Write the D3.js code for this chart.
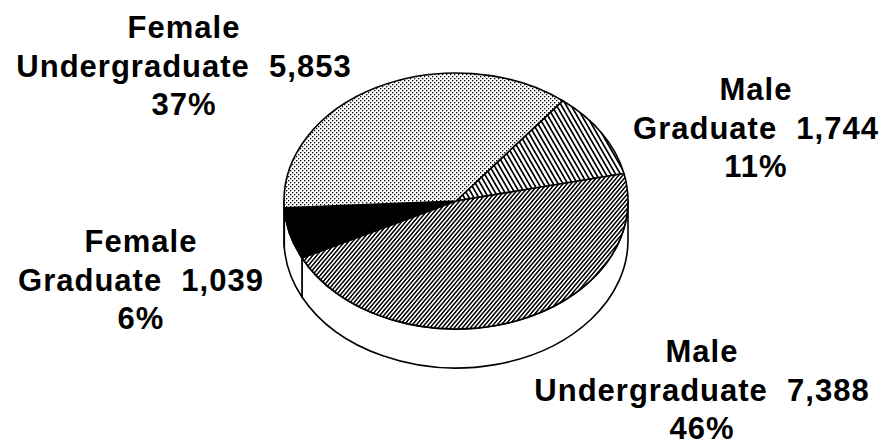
<!DOCTYPE html>
<html>
<head>
<meta charset="utf-8">
<script src="https://cdn.jsdelivr.net/npm/d3@7"></script>
<style>
  body { margin: 0; background: #fff; }
  text { font-family: "Liberation Sans", Arial, sans-serif; font-weight: bold; font-size: 31px; fill: #000; letter-spacing: 1px; }
</style>
</head>
<body>
<svg id="chart" width="893" height="448"></svg>
<script>
// enrollment by gender and level
var genders = ["Male", "Male", "Female", "Female"];
var levels = ["Graduate", "Undergraduate", "Graduate", "Undergraduate"];
var counts = [1744, 7388, 1039, 5853];
var fills = ["url(#hatchSparse)", "url(#hatchDense)", "#000", "url(#stipple)"];

// label centres (x) and first baseline (y)
var labelPos = [[756, 100], [702, 362], [141, 252], [184, 38]];

var width = 893, height = 448;
var cx = 456, cy = 201, rx = 172, ry = 128, depth = 39;
var lineH = 38.5;

var svg = d3.select("#chart");
var defs = svg.append("defs");

var st = defs.append("pattern").attr("id", "stipple")
    .attr("patternUnits", "userSpaceOnUse").attr("width", 4).attr("height", 4);
st.append("rect").attr("width", 4).attr("height", 4).attr("fill", "#fff");
st.append("rect").attr("x", 0).attr("y", 0).attr("width", 1.3).attr("height", 1.3).attr("fill", "#000");
st.append("rect").attr("x", 2).attr("y", 2).attr("width", 1.3).attr("height", 1.3).attr("fill", "#000");

function hatch(id, size, lw, angle) {
    var p = defs.append("pattern").attr("id", id)
        .attr("patternUnits", "userSpaceOnUse")
        .attr("width", size).attr("height", size)
        .attr("patternTransform", "rotate(" + angle + ")");
    p.append("rect").attr("width", size).attr("height", size).attr("fill", "#fff");
    p.append("rect").attr("x", 0).attr("y", 0).attr("width", lw).attr("height", size).attr("fill", "#000");
}
hatch("hatchSparse", 4.2, 1.7, -30);
hatch("hatchDense", 3.1, 1.5, 40);

var pie = d3.pie().sort(null).startAngle(38.4 * Math.PI / 180).endAngle(38.4 * Math.PI / 180 + 2 * Math.PI);
var arcs = pie(counts);
var total = d3.sum(counts);

// d3 angle (0 = 12 o'clock) -> ellipse parameter
function toT(a) { return a - Math.PI / 2; }
function pt(t, dy) { return [cx + rx * Math.cos(t), cy + (dy || 0) + ry * Math.sin(t)]; }

function topPath(d) {
    var t0 = toT(d.startAngle), t1 = toT(d.endAngle);
    var p0 = pt(t0), p1 = pt(t1);
    var large = (t1 - t0) > Math.PI ? 1 : 0;
    return "M" + cx + "," + cy + "L" + p0 + "A" + rx + "," + ry + " 0 " + large + " 1 " + p1 + "Z";
}

function wallPath(t0, t1) {
    var a = pt(t0), b = pt(t1), c = pt(t1, depth), e = pt(t0, depth);
    return "M" + a + "A" + rx + "," + ry + " 0 0 1 " + b +
        "L" + c + "A" + rx + "," + ry + " 0 0 0 " + e + "Z";
}

// front walls (parameter between 0 and PI)
var walls = [];
arcs.forEach(function (d) {
    var t0 = toT(d.startAngle), t1 = toT(d.endAngle);
    [-2 * Math.PI, 0, 2 * Math.PI].forEach(function (k) {
        var s = Math.max(t0 + k, 0), e = Math.min(t1 + k, Math.PI);
        if (e > s) walls.push([s, e]);
    });
});

svg.append("g").selectAll("path").data(walls).join("path")
    .attr("d", function (w) { return wallPath(w[0], w[1]); })
    .attr("fill", "#fff").attr("stroke", "#000").attr("stroke-width", 1.6)
    .attr("stroke-linejoin", "round");

svg.append("g").selectAll("path").data(arcs).join("path")
    .attr("d", topPath)
    .attr("fill", function (d, i) { return fills[i]; })
    .attr("stroke", "#000").attr("stroke-width", 1.6)
    .attr("stroke-linejoin", "round");

var fmt = d3.format(",");
var labels = svg.append("g").selectAll("text").data(arcs).join("text")
    .attr("text-anchor", "middle")
    .attr("x", function (d, i) { return labelPos[i][0]; })
    .attr("y", function (d, i) { return labelPos[i][1]; })
    .style("white-space", "pre");

labels.each(function (d, i) {
    var lines = [genders[i], levels[i] + "  " + fmt(counts[i]), Math.round(d.value / total * 100) + "%"];
    d3.select(this).selectAll("tspan").data(lines).join("tspan")
        .attr("x", labelPos[i][0])
        .attr("dy", function (l, j) { return j === 0 ? 0 : lineH; })
        .text(function (l) { return l; });
});
</script>
</body>
</html>
